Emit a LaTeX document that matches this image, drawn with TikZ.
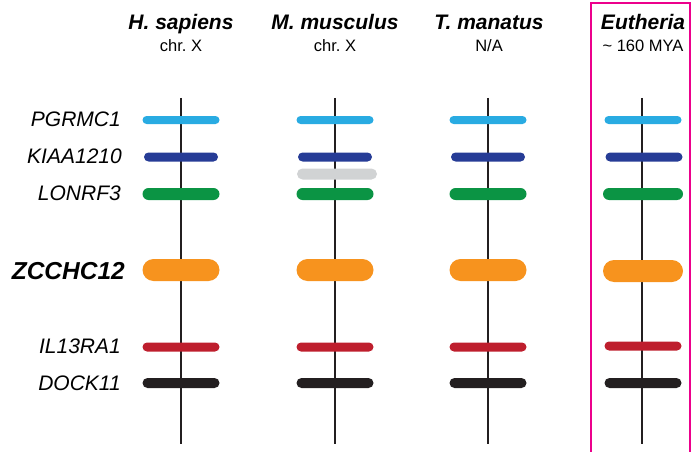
\documentclass[tikz,border=0pt]{standalone}
\usepackage{fontspec}
\setmainfont{Liberation Sans}
\definecolor{cLB}{HTML}{29ABE2}
\definecolor{cDB}{HTML}{263C96}
\definecolor{cGR}{HTML}{0B9444}
\definecolor{cOR}{HTML}{F7931E}
\definecolor{cRD}{HTML}{BE1E2D}
\definecolor{cBK}{HTML}{231F20}
\definecolor{cGY}{HTML}{D1D3D4}
\definecolor{cPK}{HTML}{EC008C}
\begin{document}
\begin{tikzpicture}[x=1pt,y=-1pt,
  gene/.style={rectangle,inner sep=0pt,minimum width=77pt,rounded corners=#1/2,minimum height=#1},
  gene/.default=9pt,
  title/.style={font=\fontsize{21}{24}\selectfont\bfseries\itshape,inner sep=0pt,anchor=base},
  sub/.style={font=\fontsize{16.5}{19}\selectfont,inner sep=0pt,anchor=base},
  glabel/.style={font=\fontsize{21}{24}\selectfont\itshape,anchor=base east,inner sep=0pt},
  axis/.style={line width=2.4pt,cBK},
  box/.style={line width=2.5pt,cPK}]
\useasboundingbox (0,0) rectangle (694,452);
% headers
\node[title] (t1) at (181,30) {H. sapiens};
\node[sub] (s1) at (181,52) {chr.\ X};
\node[title] (t2) at (335,30) {M. musculus};
\node[sub] (s2) at (335,52) {chr.\ X};
\node[title] (t3) at (489,30) {T. manatus};
\node[sub] (s3) at (489,52) {N/A};
\node[title] (t4) at (643,30) {Eutheria};
\node[sub] (s4) at (643,52) {\textasciitilde{} 160 MYA};
% pink box
\coordinate (b1) at (591,460);
\coordinate (b2) at (591,3);
\coordinate (b3) at (690,3);
\coordinate (b4) at (690,460);
\draw[box] (b1) -- (b2) -- (b3) -- (b4);
% gene labels
\node[glabel] (l1) at (121,126) {PGRMC1};
\node[glabel] (l2) at (122,163) {KIAA1210};
\node[glabel] (l3) at (121,200) {LONRF3};
\node[glabel,font=\fontsize{24.5}{28}\selectfont\bfseries\itshape] (l4) at (125,279) {ZCCHC12};
\node[glabel] (l5) at (121,353) {IL13RA1};
\node[glabel] (l6) at (121,390) {DOCK11};
% axes
\foreach \i/\x in {1/181,2/335,3/488,4/642}{
  \coordinate (top\i) at (\x,98);
  \coordinate (bot\i) at (\x,444);
  \draw[axis] (top\i) -- (bot\i);
}
% genes
\foreach \i/\x in {1/181,2/335,3/488}{
  \node[gene=8pt,fill=cLB] (pg\i) at (\x,120) {};
  \node[gene=9pt,fill=cDB,minimum width=74pt] (ki\i) at (\x,157) {};
  \node[gene=12pt,fill=cGR] (lo\i) at (\x,194) {};
  \node[gene=22pt,fill=cOR] (zc\i) at (\x,270) {};
  \node[gene=9pt,fill=cRD] (il\i) at (\x,347) {};
  \node[gene=10pt,fill=cBK] (do\i) at (\x,383) {};
}
\node[gene=11pt,fill=cGY,minimum width=80pt] (gy2) at (337,174) {};
\node[gene=8pt,fill=cLB] (pg4) at (643,120) {};
\node[gene=9pt,fill=cDB] (ki4) at (644,157) {};
\node[gene=12pt,fill=cGR,minimum width=80pt] (lo4) at (643,194) {};
\node[gene=22pt,fill=cOR,minimum width=80pt] (zc4) at (643,271) {};
\node[gene=9pt,fill=cRD] (il4) at (643,346) {};
\node[gene=10pt,fill=cBK] (do4) at (643,383) {};
\end{tikzpicture}
\end{document}
